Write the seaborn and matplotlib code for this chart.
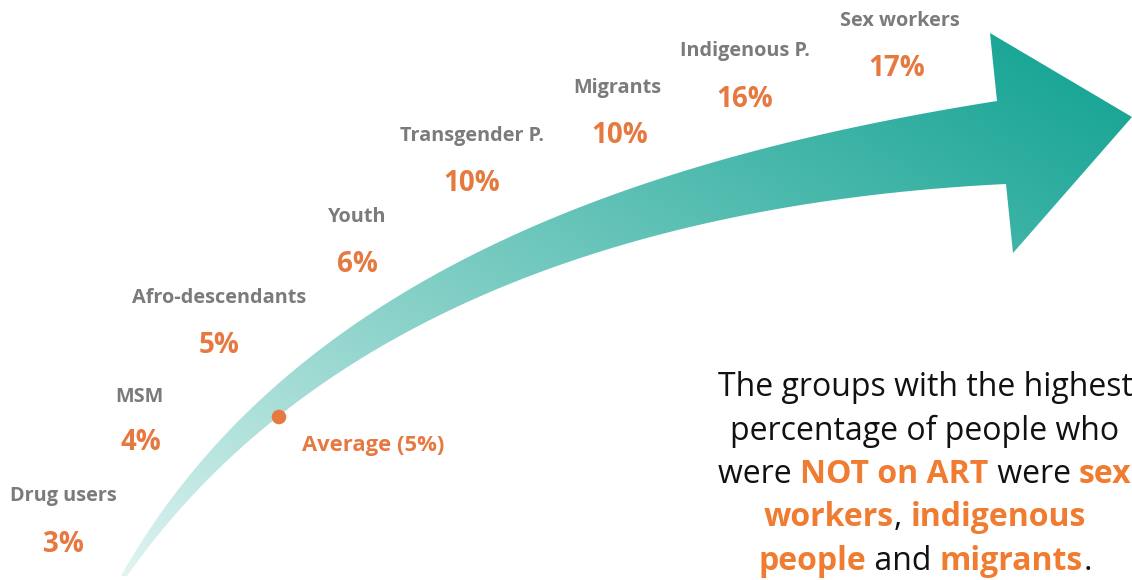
import numpy as np
import matplotlib
matplotlib.use("Agg")
import matplotlib.pyplot as plt
from matplotlib.patches import Polygon
import seaborn as sns

# data
groups = ["Drug users", "MSM", "Afro-descendants", "Youth", "Transgender P.",
          "Migrants", "Indigenous P.", "Sex workers"]
not_on_art = [3, 4, 5, 6, 10, 10, 16, 17]
average = 5

# layout (pixel positions of the labels, x center / baseline)
label_x = [63, 139, 219, 357, 472, 617, 745, 900]
label_y = [501, 402, 303, 222, 141, 93, 56, 26]
pct_x = [63, 141, 219, 357, 472, 620, 745, 897]
pct_y = [552, 450, 353, 272, 191, 143, 107, 76]
avg_xy = (279, 417)

note_lines = [
    [("The groups with the highest", False)],
    [("percentage of people who", False)],
    [("were ", False), ("NOT on ART", True), (" were ", False), ("sex", True)],
    [("workers", True), (", ", False), ("indigenous", True)],
    [("people", True), (" and ", False), ("migrants", True), (".", False)],
]

GRAY = "#7b7b7b"
ORANGE = "#e6793f"
ORANGE2 = "#ef7c30"

sns.set_theme(style="white")
plt.rcParams["font.family"] = ["Open Sans", "DejaVu Sans"]

W, H = 1132, 580
fig = plt.figure(figsize=(W / 100, H / 100), dpi=100)
ax = fig.add_axes([0, 0, 1, 1])
ax.set_xlim(0, W)
ax.set_ylim(H, 0)
ax.axis("off")


def bezier_fit(pts, n=200):
    # least squares cubic through fixed end points
    pts = np.asarray(pts, float)
    d = np.r_[0, np.cumsum(np.hypot(*np.diff(pts, axis=0).T))]
    t = d / d[-1]
    b0, b1, b2, b3 = (1 - t) ** 3, 3 * (1 - t) ** 2 * t, 3 * (1 - t) * t ** 2, t ** 3
    rhs = pts - np.outer(b0, pts[0]) - np.outer(b3, pts[-1])
    (p1, p2), *_ = np.linalg.lstsq(np.c_[b1, b2], rhs, rcond=None)
    s = np.linspace(0, 1, n)[:, None]
    return ((1 - s) ** 3 * pts[0] + 3 * (1 - s) ** 2 * s * p1
            + 3 * (1 - s) * s ** 2 * p2 + s ** 3 * pts[-1])


# curved arrow shape
upper = bezier_fit([(121, 576), (220, 440), (287, 373), (330, 343), (383, 302),
                    (447, 273), (513, 237), (580, 207), (700, 163), (800, 140),
                    (900, 120), (997, 101)])
lower = bezier_fit([(127, 576), (240, 460), (280, 412), (337, 367), (380, 347),
                    (420, 328), (480, 296), (580, 258), (633, 238), (700, 226),
                    (800, 208), (900, 193), (1006, 184)])
head = np.array([(990, 33), (1132, 117), (1013, 253)])
outline = np.vstack([upper, head, lower[::-1]])
arrow = Polygon(outline, closed=True, facecolor="none", edgecolor="none")
ax.add_patch(arrow)

# gradient fill, pale at the tail, deep teal at the head
xx, yy = np.meshgrid(np.arange(W), np.arange(H))
t = 0.55 * (xx - 120) / 1010 + 0.5 * (575 - yy) / 545
t = np.clip(t, 0, 1) ** 0.9
pale = np.array([226, 245, 242]) / 255
deep = np.array([22, 164, 148]) / 255
img = pale[None, None, :] * (1 - t[..., None]) + deep[None, None, :] * t[..., None]
im = ax.imshow(img, extent=(0, W, H, 0), aspect="auto", zorder=1)
im.set_clip_path(arrow)

# group labels and percentages
for g, v, lx, ly, px, py in zip(groups, not_on_art, label_x, label_y, pct_x, pct_y):
    ax.text(lx, ly, g, ha="center", va="baseline", fontsize=14.3,
            fontweight="bold", color=GRAY, zorder=3)
    ax.text(px, py, f"{v}%", ha="center", va="baseline", fontsize=20,
            fontweight="bold", color=ORANGE, zorder=3)

# average marker
sns.scatterplot(x=[avg_xy[0]], y=[avg_xy[1]], s=110, color=ORANGE,
                edgecolor="none", ax=ax, zorder=4)
ax.text(302, 451, f"Average ({average}%)", ha="left", va="baseline",
        fontsize=15.8, fontweight="bold", color=ORANGE, zorder=3)

# right-hand note, centred lines with mixed styles
fig.canvas.draw()
renderer = fig.canvas.get_renderer()
note_cx = 925
base = 396
for i, line in enumerate(note_lines):
    y = base + i * 43.5
    parts = []
    x = 0
    for txt, bold in line:
        tt = ax.text(x, y, txt, ha="left", va="baseline", fontsize=23,
                     fontweight="bold" if bold else "normal",
                     color=ORANGE2 if bold else "#111111", zorder=3)
        w = tt.get_window_extent(renderer).width
        parts.append((tt, x))
        x += w
    start = note_cx - x / 2
    for tt, off in parts:
        tt.set_x(start + off)

fig.savefig("out.png", dpi=100)
